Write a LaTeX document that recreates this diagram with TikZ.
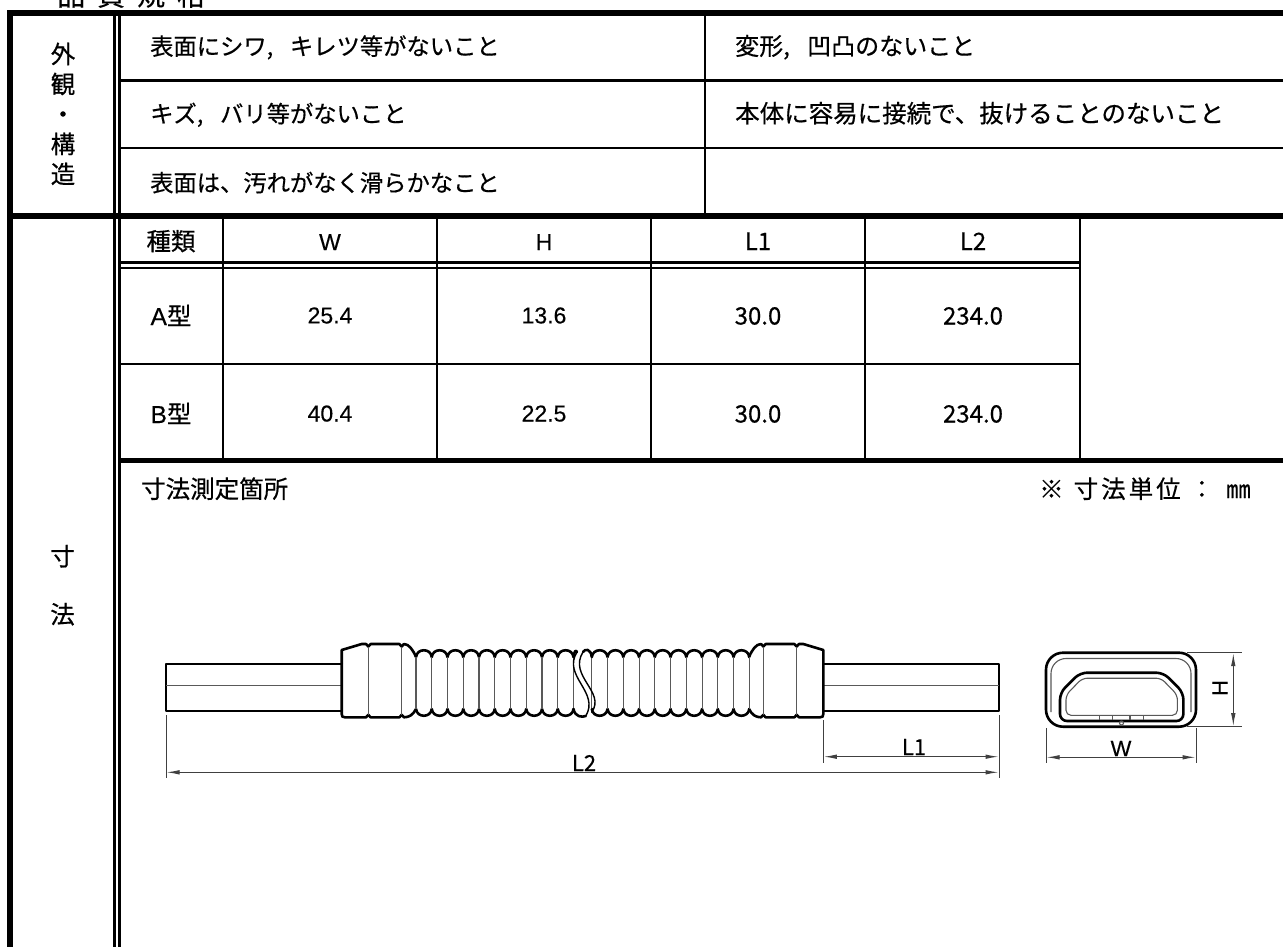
\documentclass[tikz,border=0pt]{standalone}
\usepackage{fontspec}
\setmainfont{Noto Sans CJK JP}[FakeBold=0.5]
\newfontfamily\arialf{Liberation Sans}[FakeBold=0.3]
\usetikzlibrary{arrows.meta}
\newcommand\jpfs{\fontsize{24.5}{29}\selectfont}
\newcommand\jplfs{\fontsize{23.3}{28}\selectfont}
\newcommand\numfs{\arialf\fontsize{23}{27}\selectfont}
\newcommand\nrwfs{\fontsize{24}{28}\selectfont}
\newcommand\dimfs{\fontsize{22}{26}\selectfont}
\newcommand\hcomma{\makebox[0.5em][l]{,}\hspace{0.5em}}
\newcommand\ductEnd{%
  \draw[outl] (341.7,664) -- (166,664) -- (166,711) -- (341.7,711);
  \draw[inl] (166,685.7) -- (341.7,685.7);
  \draw[outl] (416,657) .. controls (413,650) and (409,644) .. (404,644) -- (401.7,646.5) -- (399.4,644) -- (370.6,644) -- (368.3,646.5) -- (366,644) -- (361.7,644) -- (341.7,650) -- (341.7,714) .. controls (341.7,716.5) and (342.5,717.3) .. (345,717.3) -- (366,717.3) -- (368.3,714.8) -- (370.6,717.3) -- (399.4,717.3) -- (401.7,714.8) -- (404,717.3) .. controls (409,717.3) and (413,715) .. (416,709);
  \draw[inl] (368.3,646.5) -- (368.3,714.8);
  \draw[inl] (401.7,646.5) -- (401.7,714.8);
}
\begin{document}
\begin{tikzpicture}[x=1pt,y=-1pt,
  frameln/.style={line width=6.2pt},
  thickln/.style={line width=6.5pt},
  gridln/.style={line width=2.8pt},
  jt/.style={font=\jpfs, inner sep=0pt, anchor=base west},
  jtl/.style={font=\jplfs, inner sep=0pt, anchor=base west},
  jc/.style={font=\jpfs, inner sep=0pt, anchor=base},
  numc/.style={font=\numfs, inner sep=0pt, anchor=base},
  nrwc/.style={font=\nrwfs, inner sep=0pt, anchor=base},
  outl/.style={line width=2.6pt, line join=round, line cap=round},
  inl/.style={line width=1.1pt, black!65},
  dimln/.style={line width=1pt, black!75},
  arr/.style={{Latex[length=13pt,width=4.5pt]}-{Latex[length=13pt,width=4.5pt]}}
]
\fill[white] (0,0) rectangle (1283,946);
\useasboundingbox (0,0) rectangle (1283,946);

% title, cut by the top edge as in the reference
\node[font=\fontsize{28}{30}\selectfont, inner sep=0pt, anchor=base west] (title) at (57,5.5) {品\hspace{12pt}質\hspace{12pt}規\hspace{12pt}格};

% ---------- frame and grid ----------
\draw[frameln] (7,12.8) -- (1290,12.8);
\draw[frameln] (10.3,10) -- (10.3,950);
\draw[line width=3pt] (114.3,14) -- (114.3,950);
\draw[line width=2.8pt] (119.4,14) -- (119.4,950);
\draw[gridln] (120,80.5) -- (1290,80.5);
\draw[gridln] (120,148) -- (1290,148);
\draw[gridln] (705,14) -- (705,214);
\draw[thickln] (7,216) -- (1290,216);
\draw[line width=2.2pt] (120,262.5) -- (1080,262.5);
\draw[line width=2.6pt] (120,267.9) -- (1080,267.9);
\draw[gridln] (120,364) -- (1080,364);
\foreach \x in {223,437,651,865,1080} \draw[gridln] (\x,218) -- (\x,459);
\draw[line width=5.5pt] (120,460.7) -- (1290,460.7);

% ---------- top section texts ----------
\node[jc] (g1) at (63,63.3) {外};
\node[jc] (g2) at (63,93.3) {観};
\node[jc] (g3) at (63,123.3) {・};
\node[jc] (g4) at (63,153.3) {構};
\node[jc] (g5) at (63,183.3) {造};
\node[jtl] (t1) at (150,55) {表面にシワ\hcomma キレツ等がないこと};
\node[jtl] (t2) at (150,122.5) {キズ\hcomma バリ等がないこと};
\node[jtl] (t3) at (150,191.5) {表面は、汚れがなく滑らかなこと};
\node[font=\fontsize{24}{28}\selectfont, inner sep=0pt, anchor=base west] (t4) at (735,55) {変形\hcomma 凹凸のないこと};
\node[jt] (t5) at (735,122.5) {本体に容易に接続で、抜けることのないこと};

% ---------- table ----------
\node[jc] (h0) at (171,250.3) {種類};
\node[numc] (h1) at (330,250) {W};
\node[numc] (h2) at (544,250) {H};
\node[nrwc] (h3) at (758,250) {L1};
\node[nrwc] (h4) at (973,250) {L2};
\node[jc] (a0) at (171,325) {{\arialf A}型};
\node[numc] (a1) at (330,323.4) {25.4};
\node[numc] (a2) at (544,323.4) {13.6};
\node[nrwc] (a3) at (758,324.5) {30.0};
\node[nrwc] (a4) at (973,324.5) {234.0};
\node[jc] (b0) at (171,423) {{\arialf B}型};
\node[numc] (b1) at (330,421.5) {40.4};
\node[numc] (b2) at (544,421.5) {22.5};
\node[nrwc] (b3) at (758,422.5) {30.0};
\node[nrwc] (b4) at (973,422.5) {234.0};

% ---------- lower section texts ----------
\node[jc] (s1) at (62.5,565.5) {寸};
\node[jc] (s2) at (62.5,623.5) {法};
\node[jt] (m1) at (141,498) {寸法測定箇所};
\node[jt] (m2) at (1039,498) {※\hspace{10pt}寸\hspace{3pt}法\hspace{3pt}単\hspace{3pt}位\hspace{9pt}：\hspace{12pt}㎜};

% ---------- duct drawing ----------
\ductEnd
\begin{scope}[shift={(1165,0)}, xscale=-1]
  \ductEnd
\end{scope}
% corrugations left group
\draw[outl] (416,657) \foreach \k in {0,...,9}{ .. controls ({416+15.75*\k+1},648) and ({416+15.75*\k+14.75},648) .. ({416+15.75*(\k+1)},657) };
\draw[outl] (416,709) \foreach \k in {0,...,9}{ .. controls ({416+15.75*\k+1},718) and ({416+15.75*\k+14.75},718) .. ({416+15.75*(\k+1)},709) };
\foreach \k in {0,...,10} \draw[inl] ({416+15.75*\k},657) -- ({416+15.75*\k},709);
% corrugations right group
\draw[outl] (591.8,657) \foreach \k in {0,...,9}{ .. controls ({591.8+15.75*\k+1},648) and ({591.8+15.75*\k+14.75},648) .. ({591.8+15.75*(\k+1)},657) };
\draw[outl] (591.8,709) \foreach \k in {0,...,9}{ .. controls ({591.8+15.75*\k+1},718) and ({591.8+15.75*\k+14.75},718) .. ({591.8+15.75*(\k+1)},709) };
\foreach \k in {0,...,10} \draw[inl] ({591.8+15.75*\k},657) -- ({591.8+15.75*\k},709);
% break
\draw[outl] (573.5,657) .. controls (574.5,650) and (576,650) .. (577,652);
\draw[outl] (573.5,709) .. controls (575,717) and (582,717.5) .. (585.8,716);
\draw[line width=1.4pt] (577,652) .. controls (562,676) and (600,692) .. (585.8,716);
\draw[line width=1.4pt] (583,652) .. controls (568,676) and (606,692) .. (591.8,712);
\draw[outl] (583,652) .. controls (585,648.5) and (590.8,648.5) .. (591.8,657);
\draw[outl] (591.8,712) -- (591.8,709);

% dimensions L2, L1
\coordinate (e1a) at (166,715); \coordinate (e1b) at (166,778);
\coordinate (e2a) at (999,715); \coordinate (e2b) at (999,778);
\coordinate (e3a) at (823.3,720); \coordinate (e3b) at (823.3,763);
\draw[dimln] (e1a) -- (e1b);
\draw[dimln] (e2a) -- (e2b);
\draw[dimln] (e3a) -- (e3b);
\coordinate (l2a) at (166.5,772.3); \coordinate (l2b) at (998.5,772.3);
\coordinate (l1a) at (823.8,756.7); \coordinate (l1b) at (998.5,756.7);
\draw[dimln, arr] (l2a) -- (l2b);
\draw[dimln, arr] (l1a) -- (l1b);
\node[font=\dimfs, inner sep=0pt, anchor=base] (lab2) at (584,771) {L2};
\node[font=\dimfs, inner sep=0pt, anchor=base] (lab1) at (914,755) {L1};

% ---------- cross-section ----------
\draw[outl, rounded corners=17pt] (1046,652.7) rectangle (1196,726.7);
\draw[inl, rounded corners=15pt] (1051,712) -- (1051,658.5) -- (1191,658.5) -- (1191,712);
\draw[outl, rounded corners=7pt] (1080,672.7) -- (1163.4,672.7) -- (1183.4,692.7) -- (1183.4,721) -- (1060,721) -- (1060,692.7) -- cycle;
\draw[inl, rounded corners=5pt] (1082.3,678.2) -- (1161.1,678.2) -- (1177.4,695) -- (1177.4,715.3) -- (1066,715.3) -- (1066,695) -- cycle;
\foreach \x in {1099.3,1112.7,1130,1143.3} \draw[inl] (\x,715.3) -- (\x,720);
\draw[inl] (1121.5,723) circle (2pt);
\coordinate (ha1) at (1187,652.7); \coordinate (ha2) at (1242,652.7);
\coordinate (hb1) at (1187,726.7); \coordinate (hb2) at (1242,726.7);
\draw[dimln] (ha1) -- (ha2);
\draw[dimln] (hb1) -- (hb2);
\coordinate (hd1) at (1233.3,653.2); \coordinate (hd2) at (1233.3,726.2);
\draw[dimln, arr] (hd1) -- (hd2);
\node[font=\arialf\fontsize{22}{26}\selectfont, inner sep=0pt, rotate=90] (hlab) at (1220,688) {H};
\coordinate (wa1) at (1046,728); \coordinate (wa2) at (1046,763.3);
\coordinate (wb1) at (1196,728); \coordinate (wb2) at (1196,763.3);
\draw[dimln] (wa1) -- (wa2);
\draw[dimln] (wb1) -- (wb2);
\coordinate (wd1) at (1046.5,757.3); \coordinate (wd2) at (1195.5,757.3);
\draw[dimln, arr] (wd1) -- (wd2);
\node[font=\arialf\fontsize{22}{26}\selectfont, inner sep=0pt, anchor=base] (wlab) at (1121,756) {W};
\end{tikzpicture}
\end{document}
